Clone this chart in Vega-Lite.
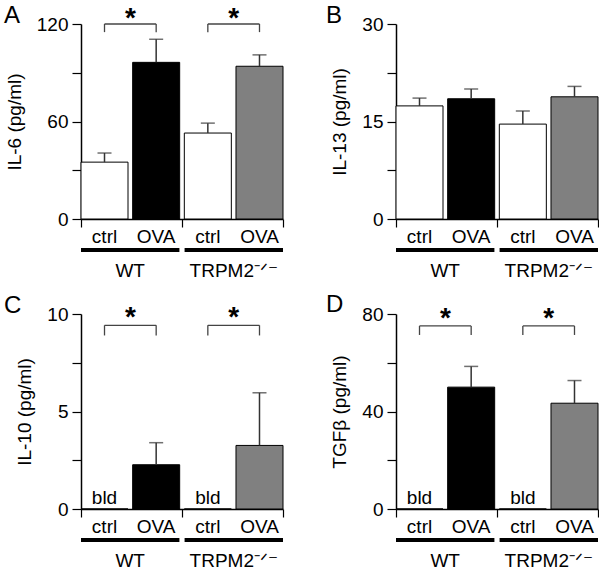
{
  "$schema": "https://vega.github.io/schema/vega-lite/v6.json",
  "padding": {"left": 4, "top": 3, "right": 0, "bottom": 0},
  "config": {
    "font": "Liberation Sans",
    "view": {"stroke": null},
    "axis": {"grid": false, "labelFontSize": 19, "labelColor": "black", "titleFontSize": 19, "titleFontWeight": "normal", "titleColor": "black", "domainColor": "black", "tickColor": "black", "labelFont": "Liberation Sans", "titleFont": "Liberation Sans"},
    "axisX": {"domainWidth": 1.5, "labelAngle": 0},
    "axisY": {"domainWidth": 1.5, "tickSize": 9, "tickWidth": 1.2, "labelPadding": 4, "titlePadding": 12},
    "title": {"fontSize": 24, "fontWeight": "normal", "anchor": "start", "frame": "group", "offset": 0, "baseline": "alphabetic", "color": "black", "font": "Liberation Sans"},
    "text": {"font": "Liberation Sans"}
  },
  "datasets": {
    "d": [
      {"panel": "A", "cond": "WT ctrl", "mean": 35.0, "err": 40.6, "bld": false},
      {"panel": "A", "cond": "WT OVA", "mean": 96.4, "err": 110.6, "bld": false},
      {"panel": "A", "cond": "TRPM2 ctrl", "mean": 52.9, "err": 59.0, "bld": false},
      {"panel": "A", "cond": "TRPM2 OVA", "mean": 94.0, "err": 101.0, "bld": false},
      {"panel": "B", "cond": "WT ctrl", "mean": 17.4, "err": 18.6, "bld": false},
      {"panel": "B", "cond": "WT OVA", "mean": 18.5, "err": 20.0, "bld": false},
      {"panel": "B", "cond": "TRPM2 ctrl", "mean": 14.6, "err": 16.6, "bld": false},
      {"panel": "B", "cond": "TRPM2 OVA", "mean": 18.8, "err": 20.4, "bld": false},
      {"panel": "C", "cond": "WT ctrl", "mean": 0, "err": null, "bld": true},
      {"panel": "C", "cond": "WT OVA", "mean": 2.27, "err": 3.4, "bld": false},
      {"panel": "C", "cond": "TRPM2 ctrl", "mean": 0, "err": null, "bld": true},
      {"panel": "C", "cond": "TRPM2 OVA", "mean": 3.26, "err": 5.96, "bld": false},
      {"panel": "D", "cond": "WT ctrl", "mean": 0, "err": null, "bld": true},
      {"panel": "D", "cond": "WT OVA", "mean": 50.0, "err": 58.5, "bld": false},
      {"panel": "D", "cond": "TRPM2 ctrl", "mean": 0, "err": null, "bld": true},
      {"panel": "D", "cond": "TRPM2 OVA", "mean": 43.4, "err": 52.7, "bld": false}
    ],
    "cmp": [
      {"panel": "A", "from": "WT ctrl", "to": "WT OVA"},
      {"panel": "A", "from": "TRPM2 ctrl", "to": "TRPM2 OVA"},
      {"panel": "C", "from": "WT ctrl", "to": "WT OVA"},
      {"panel": "C", "from": "TRPM2 ctrl", "to": "TRPM2 OVA"},
      {"panel": "D", "from": "WT ctrl", "to": "WT OVA"},
      {"panel": "D", "from": "TRPM2 ctrl", "to": "TRPM2 OVA"}
    ],
    "geno": [{"g": "WT"}, {"g": "TRPM2\u207B\u141F\u207B"}]
  },
  "columns": 2,
  "spacing": {"column": 42, "row": 13},
  "concat": [
    {
      "spacing": 2,
      "vconcat": [
        {
          "width": 202, "height": 195,
          "title": {"text": "A", "dx": -77, "dy": 27},
          "resolve": {"scale": {"x": "independent"}, "axis": {"x": "independent"}},
          "layer": [
            {
              "data": {"name": "d"},
              "transform": [{"filter": "datum.panel == 'A'"}],
              "layer": [
                {
                  "mark": {"type": "bar", "stroke": "black", "strokeWidth": 1},
                  "encoding": {
                    "x": {"field": "cond", "type": "nominal", "sort": null, "scale": {"type": "band", "domain": ["WT ctrl", "WT OVA", "TRPM2 ctrl", "TRPM2 OVA"], "paddingInner": 0.09, "paddingOuter": 0}, "axis": {"orient": "bottom", "title": null, "ticks": false, "tickSize": 0, "labelPadding": 8, "labelExpr": "split(datum.label, ' ')[1]"}},
                    "y": {"field": "mean", "type": "quantitative", "scale": {"domain": [0, 120], "nice": false}, "axis": {"title": "IL-6 (pg/ml)", "values": [0, 30, 60, 90, 120], "labelExpr": "datum.value % 60 == 0 ? datum.label : ''"}},
                    "fill": {"field": "cond", "type": "nominal", "scale": {"domain": ["WT ctrl", "WT OVA", "TRPM2 ctrl", "TRPM2 OVA"], "range": ["white", "black", "white", "#808080"]}, "legend": null}
                  }
                },
                {
                  "transform": [{"filter": "isValid(datum.err)"}],
                  "mark": {"type": "rule", "color": "#333", "strokeWidth": 1.5},
                  "encoding": {"x": {"field": "cond", "type": "nominal", "title": null}, "y": {"field": "mean", "type": "quantitative"}, "y2": {"field": "err"}}
                },
                {
                  "transform": [{"filter": "isValid(datum.err)"}],
                  "mark": {"type": "tick", "color": "#333", "thickness": 1.5, "size": 14},
                  "encoding": {"x": {"field": "cond", "type": "nominal", "title": null}, "y": {"field": "err", "type": "quantitative"}}
                },
                {
                  "data": {"name": "cmp"},
                  "transform": [{"filter": "datum.panel == 'A'"}],
                  "layer": [
                    {"mark": {"type": "rule", "color": "#444", "strokeWidth": 1.3}, "encoding": {"x": {"field": "from", "type": "nominal", "title": null}, "x2": {"field": "to"}, "y": {"datum": 120}}},
                    {"mark": {"type": "rule", "color": "#444", "strokeWidth": 1.3}, "encoding": {"x": {"field": "from", "type": "nominal", "title": null}, "y": {"datum": 120}, "y2": {"datum": 115}}},
                    {"mark": {"type": "rule", "color": "#444", "strokeWidth": 1.3}, "encoding": {"x": {"field": "to", "type": "nominal", "title": null}, "y": {"datum": 120}, "y2": {"datum": 115}}},
                    {"mark": {"type": "text", "text": "*", "fontSize": 28, "fontWeight": "bold", "baseline": "alphabetic"}, "encoding": {"x": {"field": "from", "type": "nominal", "title": null, "bandPosition": 1.05}, "y": {"datum": 118.2}}}
                  ]
                }
              ]
            },
            {
              "data": {"name": "geno"},
              "mark": {"type": "point", "opacity": 0},
              "encoding": {"x": {"field": "g", "type": "nominal", "sort": null, "scale": {"type": "band", "paddingInner": 0, "paddingOuter": 0}, "axis": {"orient": "bottom", "title": null, "domain": false, "labels": false, "ticks": true, "tickBand": "extent", "tickSize": 8, "tickWidth": 1.2, "tickColor": "black"}}}
            }
          ]
        },
        {
          "width": 202, "height": 4,
          "data": {"name": "geno"},
          "mark": {"type": "bar", "color": "black"},
          "encoding": {"x": {"field": "g", "type": "nominal", "sort": null, "scale": {"paddingInner": 0.05, "paddingOuter": 0}, "axis": {"title": null, "domain": false, "ticks": false, "tickSize": 0, "labelPadding": 9}}}
        }
      ]
    },
    {
      "spacing": 2,
      "vconcat": [
        {
          "width": 202, "height": 195,
          "title": {"text": "B", "dx": -70, "dy": 17},
          "resolve": {"scale": {"x": "independent"}, "axis": {"x": "independent"}},
          "layer": [
            {
              "data": {"name": "d"},
              "transform": [{"filter": "datum.panel == 'B'"}],
              "layer": [
                {
                  "mark": {"type": "bar", "stroke": "black", "strokeWidth": 1},
                  "encoding": {
                    "x": {"field": "cond", "type": "nominal", "sort": null, "scale": {"type": "band", "domain": ["WT ctrl", "WT OVA", "TRPM2 ctrl", "TRPM2 OVA"], "paddingInner": 0.09, "paddingOuter": 0}, "axis": {"orient": "bottom", "title": null, "ticks": false, "tickSize": 0, "labelPadding": 8, "labelExpr": "split(datum.label, ' ')[1]"}},
                    "y": {"field": "mean", "type": "quantitative", "scale": {"domain": [0, 30], "nice": false}, "axis": {"title": "IL-13 (pg/ml)", "values": [0, 7.5, 15, 22.5, 30], "labelExpr": "datum.value % 15 == 0 ? datum.label : ''"}},
                    "fill": {"field": "cond", "type": "nominal", "scale": {"domain": ["WT ctrl", "WT OVA", "TRPM2 ctrl", "TRPM2 OVA"], "range": ["white", "black", "white", "#808080"]}, "legend": null}
                  }
                },
                {
                  "transform": [{"filter": "isValid(datum.err)"}],
                  "mark": {"type": "rule", "color": "#333", "strokeWidth": 1.5},
                  "encoding": {"x": {"field": "cond", "type": "nominal", "title": null}, "y": {"field": "mean", "type": "quantitative"}, "y2": {"field": "err"}}
                },
                {
                  "transform": [{"filter": "isValid(datum.err)"}],
                  "mark": {"type": "tick", "color": "#333", "thickness": 1.5, "size": 14},
                  "encoding": {"x": {"field": "cond", "type": "nominal", "title": null}, "y": {"field": "err", "type": "quantitative"}}
                }
              ]
            },
            {
              "data": {"name": "geno"},
              "mark": {"type": "point", "opacity": 0},
              "encoding": {"x": {"field": "g", "type": "nominal", "sort": null, "scale": {"type": "band", "paddingInner": 0, "paddingOuter": 0}, "axis": {"orient": "bottom", "title": null, "domain": false, "labels": false, "ticks": true, "tickBand": "extent", "tickSize": 8, "tickWidth": 1.2, "tickColor": "black"}}}
            }
          ]
        },
        {
          "width": 202, "height": 4,
          "data": {"name": "geno"},
          "mark": {"type": "bar", "color": "black"},
          "encoding": {"x": {"field": "g", "type": "nominal", "sort": null, "scale": {"paddingInner": 0.05, "paddingOuter": 0}, "axis": {"title": null, "domain": false, "ticks": false, "tickSize": 0, "labelPadding": 9}}}
        }
      ]
    },
    {
      "spacing": 2,
      "vconcat": [
        {
          "width": 202, "height": 195,
          "title": {"text": "C", "dx": -77, "dy": 18},
          "resolve": {"scale": {"x": "independent"}, "axis": {"x": "independent"}},
          "layer": [
            {
              "data": {"name": "d"},
              "transform": [{"filter": "datum.panel == 'C'"}],
              "layer": [
                {
                  "mark": {"type": "bar", "stroke": "black", "strokeWidth": 1},
                  "encoding": {
                    "x": {"field": "cond", "type": "nominal", "sort": null, "scale": {"type": "band", "domain": ["WT ctrl", "WT OVA", "TRPM2 ctrl", "TRPM2 OVA"], "paddingInner": 0.09, "paddingOuter": 0}, "axis": {"orient": "bottom", "title": null, "ticks": false, "tickSize": 0, "labelPadding": 8, "labelExpr": "split(datum.label, ' ')[1]"}},
                    "y": {"field": "mean", "type": "quantitative", "scale": {"domain": [0, 10], "nice": false}, "axis": {"title": "IL-10 (pg/ml)", "values": [0, 2.5, 5, 7.5, 10], "labelExpr": "datum.value % 5 == 0 ? datum.label : ''"}},
                    "fill": {"field": "cond", "type": "nominal", "scale": {"domain": ["WT ctrl", "WT OVA", "TRPM2 ctrl", "TRPM2 OVA"], "range": ["white", "black", "white", "#808080"]}, "legend": null}
                  }
                },
                {
                  "transform": [{"filter": "isValid(datum.err)"}],
                  "mark": {"type": "rule", "color": "#333", "strokeWidth": 1.5},
                  "encoding": {"x": {"field": "cond", "type": "nominal", "title": null}, "y": {"field": "mean", "type": "quantitative"}, "y2": {"field": "err"}}
                },
                {
                  "transform": [{"filter": "isValid(datum.err)"}],
                  "mark": {"type": "tick", "color": "#333", "thickness": 1.5, "size": 14},
                  "encoding": {"x": {"field": "cond", "type": "nominal", "title": null}, "y": {"field": "err", "type": "quantitative"}}
                },
                {
                  "transform": [{"filter": "datum.bld"}],
                  "mark": {"type": "text", "text": "bld", "fontSize": 19, "baseline": "alphabetic", "dy": -5},
                  "encoding": {"x": {"field": "cond", "type": "nominal", "title": null}, "y": {"datum": 0}}
                },
                {
                  "data": {"name": "cmp"},
                  "transform": [{"filter": "datum.panel == 'C'"}],
                  "layer": [
                    {"mark": {"type": "rule", "color": "#444", "strokeWidth": 1.3}, "encoding": {"x": {"field": "from", "type": "nominal", "title": null}, "x2": {"field": "to"}, "y": {"datum": 9.42}}},
                    {"mark": {"type": "rule", "color": "#444", "strokeWidth": 1.3}, "encoding": {"x": {"field": "from", "type": "nominal", "title": null}, "y": {"datum": 9.42}, "y2": {"datum": 8.9}}},
                    {"mark": {"type": "rule", "color": "#444", "strokeWidth": 1.3}, "encoding": {"x": {"field": "to", "type": "nominal", "title": null}, "y": {"datum": 9.42}, "y2": {"datum": 8.9}}},
                    {"mark": {"type": "text", "text": "*", "fontSize": 28, "fontWeight": "bold", "baseline": "alphabetic"}, "encoding": {"x": {"field": "from", "type": "nominal", "title": null, "bandPosition": 1.05}, "y": {"datum": 9.4}}}
                  ]
                }
              ]
            },
            {
              "data": {"name": "geno"},
              "mark": {"type": "point", "opacity": 0},
              "encoding": {"x": {"field": "g", "type": "nominal", "sort": null, "scale": {"type": "band", "paddingInner": 0, "paddingOuter": 0}, "axis": {"orient": "bottom", "title": null, "domain": false, "labels": false, "ticks": true, "tickBand": "extent", "tickSize": 8, "tickWidth": 1.2, "tickColor": "black"}}}
            }
          ]
        },
        {
          "width": 202, "height": 4,
          "data": {"name": "geno"},
          "mark": {"type": "bar", "color": "black"},
          "encoding": {"x": {"field": "g", "type": "nominal", "sort": null, "scale": {"paddingInner": 0.05, "paddingOuter": 0}, "axis": {"title": null, "domain": false, "ticks": false, "tickSize": 0, "labelPadding": 9}}}
        }
      ]
    },
    {
      "spacing": 2,
      "vconcat": [
        {
          "width": 202, "height": 195,
          "title": {"text": "D", "dx": -70, "dy": 16.5},
          "resolve": {"scale": {"x": "independent"}, "axis": {"x": "independent"}},
          "layer": [
            {
              "data": {"name": "d"},
              "transform": [{"filter": "datum.panel == 'D'"}],
              "layer": [
                {
                  "mark": {"type": "bar", "stroke": "black", "strokeWidth": 1},
                  "encoding": {
                    "x": {"field": "cond", "type": "nominal", "sort": null, "scale": {"type": "band", "domain": ["WT ctrl", "WT OVA", "TRPM2 ctrl", "TRPM2 OVA"], "paddingInner": 0.09, "paddingOuter": 0}, "axis": {"orient": "bottom", "title": null, "ticks": false, "tickSize": 0, "labelPadding": 8, "labelExpr": "split(datum.label, ' ')[1]"}},
                    "y": {"field": "mean", "type": "quantitative", "scale": {"domain": [0, 80], "nice": false}, "axis": {"title": "TGFβ (pg/ml)", "values": [0, 20, 40, 60, 80], "labelExpr": "datum.value % 40 == 0 ? datum.label : ''"}},
                    "fill": {"field": "cond", "type": "nominal", "scale": {"domain": ["WT ctrl", "WT OVA", "TRPM2 ctrl", "TRPM2 OVA"], "range": ["white", "black", "white", "#808080"]}, "legend": null}
                  }
                },
                {
                  "transform": [{"filter": "isValid(datum.err)"}],
                  "mark": {"type": "rule", "color": "#333", "strokeWidth": 1.5},
                  "encoding": {"x": {"field": "cond", "type": "nominal", "title": null}, "y": {"field": "mean", "type": "quantitative"}, "y2": {"field": "err"}}
                },
                {
                  "transform": [{"filter": "isValid(datum.err)"}],
                  "mark": {"type": "tick", "color": "#333", "thickness": 1.5, "size": 14},
                  "encoding": {"x": {"field": "cond", "type": "nominal", "title": null}, "y": {"field": "err", "type": "quantitative"}}
                },
                {
                  "transform": [{"filter": "datum.bld"}],
                  "mark": {"type": "text", "text": "bld", "fontSize": 19, "baseline": "alphabetic", "dy": -5},
                  "encoding": {"x": {"field": "cond", "type": "nominal", "title": null}, "y": {"datum": 0}}
                },
                {
                  "data": {"name": "cmp"},
                  "transform": [{"filter": "datum.panel == 'D'"}],
                  "layer": [
                    {"mark": {"type": "rule", "color": "#444", "strokeWidth": 1.3}, "encoding": {"x": {"field": "from", "type": "nominal", "title": null}, "x2": {"field": "to"}, "y": {"datum": 75.1}}},
                    {"mark": {"type": "rule", "color": "#444", "strokeWidth": 1.3}, "encoding": {"x": {"field": "from", "type": "nominal", "title": null}, "y": {"datum": 75.1}, "y2": {"datum": 71.4}}},
                    {"mark": {"type": "rule", "color": "#444", "strokeWidth": 1.3}, "encoding": {"x": {"field": "to", "type": "nominal", "title": null}, "y": {"datum": 75.1}, "y2": {"datum": 71.4}}},
                    {"mark": {"type": "text", "text": "*", "fontSize": 28, "fontWeight": "bold", "baseline": "alphabetic"}, "encoding": {"x": {"field": "from", "type": "nominal", "title": null, "bandPosition": 1.05}, "y": {"datum": 74.8}}}
                  ]
                }
              ]
            },
            {
              "data": {"name": "geno"},
              "mark": {"type": "point", "opacity": 0},
              "encoding": {"x": {"field": "g", "type": "nominal", "sort": null, "scale": {"type": "band", "paddingInner": 0, "paddingOuter": 0}, "axis": {"orient": "bottom", "title": null, "domain": false, "labels": false, "ticks": true, "tickBand": "extent", "tickSize": 8, "tickWidth": 1.2, "tickColor": "black"}}}
            }
          ]
        },
        {
          "width": 202, "height": 4,
          "data": {"name": "geno"},
          "mark": {"type": "bar", "color": "black"},
          "encoding": {"x": {"field": "g", "type": "nominal", "sort": null, "scale": {"paddingInner": 0.05, "paddingOuter": 0}, "axis": {"title": null, "domain": false, "ticks": false, "tickSize": 0, "labelPadding": 9}}}
        }
      ]
    }
  ]
}
